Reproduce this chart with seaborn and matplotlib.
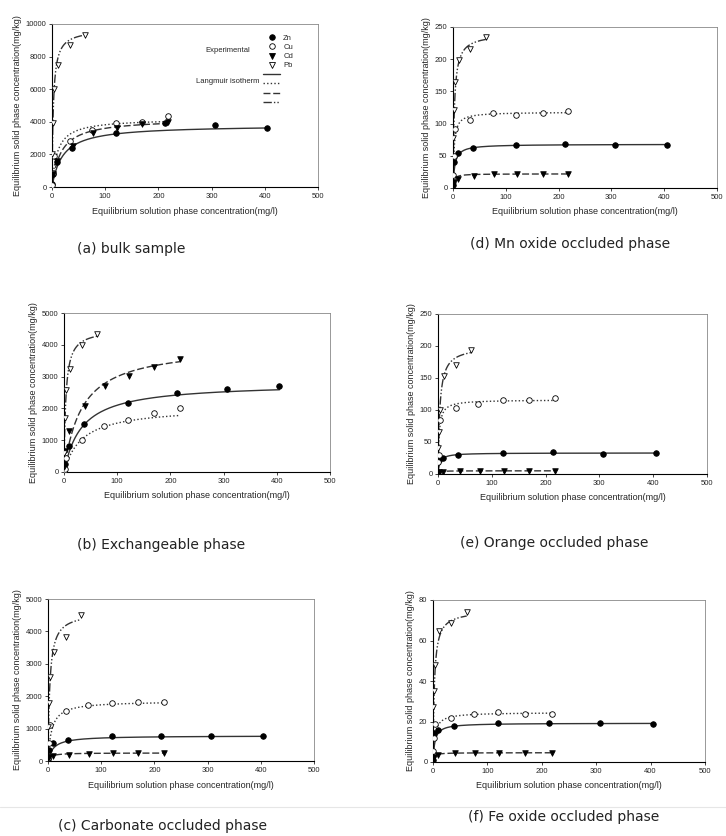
import numpy as np
import pandas as pd
import seaborn as sns
import matplotlib.pyplot as plt
from matplotlib.lines import Line2D

# equilibrium solution concentration (mg/l), same sampling for every fraction
zn_x = [0.3, 1, 10, 38, 120, 213, 307, 405]
cu_x = [0.5, 2, 4, 33, 75, 120, 170, 218]
cd_x = [0.5, 1.5, 10, 40, 78, 122, 170, 218]
pb_x = [0.3, 1, 3, 11, 33, 62]

# solid phase concentration (mg/kg) per fraction
a_zn = [200, 800, 1550, 2400, 3300, 3900, 3800, 3650]
a_cu = [150, 850, 1900, 2800, 3500, 3900, 4000, 4350]
a_cd = [700, 800, 1600, 2500, 3300, 3650, 3850, 4000]
a_pb = [2000, 3950, 6000, 7500, 8700, 9300]

b_zn = [50, 250, 820, 1500, 2180, 2470, 2600, 2700]
b_cu = [30, 100, 450, 1000, 1450, 1650, 1850, 2000]
b_cd = [150, 650, 1300, 2070, 2700, 3020, 3300, 3550]
b_pb = [600, 1700, 2580, 3250, 4000, 4330]

c_zn = [50, 350, 550, 650, 760, 780, 780, 760]
c_cu = [100, 550, 1100, 1540, 1720, 1800, 1810, 1830]
c_cd = [100, 120, 150, 200, 230, 240, 240, 240]
c_pb = [1050, 1780, 2580, 3370, 3820, 4500]

d_zn = [5, 40, 55, 62, 66, 68, 67, 66]
d_cu = [20, 50, 92, 106, 116, 113, 116, 119]
d_cd = [5, 10, 14, 19, 21, 21, 22, 22]
d_pb = [78, 121, 165, 198, 216, 235]

e_zn = [3, 22, 25, 29, 33, 34, 32, 33]
e_cu = [18, 30, 84, 103, 110, 116, 116, 118]
e_cd = [2, 3, 3, 5, 5, 5, 5, 5]
e_pb = [40, 65, 100, 153, 170, 193]

f_zn = [1, 14.5, 16, 18, 19.2, 19.5, 19.2, 19]
f_cu = [5.5, 12, 19, 21.5, 23.8, 24.5, 23.8, 23.8]
f_cd = [1.5, 2.5, 3.5, 4.2, 4.2, 4.6, 4.5, 4.5]
f_pb = [27, 35, 48, 64.5, 68.5, 74]

# Langmuir fit parameters: (Qmax, K) for Zn, Cu, Cd, Pb
a_fit = [(3800, 0.05), (4200, 0.1), (4200, 0.06), (9700, 0.4)]
b_fit = [(2800, 0.03), (2050, 0.03), (4000, 0.03), (4500, 0.3)]
c_fit = [(780, 0.1), (1850, 0.15), (250, 0.2), (4600, 0.3)]
d_fit = [(68, 0.3), (118, 0.5), (22, 0.5), (240, 0.4)]
e_fit = [(33, 0.3), (116, 0.5), (5, 0.5), (200, 0.3)]
f_fit = [(19.2, 0.3), (24.5, 0.3), (4.6, 0.5), (75, 0.4)]

metals = ['Zn', 'Cu', 'Cd', 'Pb']
captions = ['(a) bulk sample', '(b) Exchangeable phase', '(c) Carbonate occluded phase',
            '(d) Mn oxide occluded phase', '(e) Orange occluded phase', '(f) Fe oxide occluded phase']
y_tops = [10000, 5000, 5000, 250, 250, 80]
y_steps = [2000, 1000, 1000, 50, 50, 20]

sns.set_style('ticks')
plt.rcParams['font.family'] = ['Liberation Sans', 'DejaVu Sans']

fig = plt.figure(figsize=(7.26, 8.36), dpi=100)

# axes boxes in pixels: left, top, right, bottom
boxes = [(52, 24, 318, 187), (64, 313, 330, 472), (48, 599, 314, 761),
         (453, 27, 717, 188), (438, 314, 707, 474), (433, 600, 705, 762)]
cap_pos = [(77, 249), (77, 545), (58, 826), (470, 244), (460, 543), (468, 817)]

xs = [zn_x, cu_x, cd_x, pb_x]
panels = [(a_zn, a_cu, a_cd, a_pb), (b_zn, b_cu, b_cd, b_pb), (c_zn, c_cu, c_cd, c_pb),
          (d_zn, d_cu, d_cd, d_pb), (e_zn, e_cu, e_cd, e_pb), (f_zn, f_cu, f_cd, f_pb)]
fits = [a_fit, b_fit, c_fit, d_fit, e_fit, f_fit]

mk = {'Zn': 'o', 'Cu': 'o', 'Cd': 'v', 'Pb': 'v'}
face = {'Zn': 'black', 'Cu': 'white', 'Cd': 'black', 'Pb': 'white'}
dash = {'Zn': None, 'Cu': (1, 1.6), 'Cd': (5, 2), 'Pb': (6, 1.5, 1, 1.5, 1, 1.5)}
lc = '#333333'

W, H = 726, 836
for i in range(6):
    l, t, r, b = boxes[i]
    ax = fig.add_axes([l / W, 1 - b / H, (r - l) / W, (b - t) / H])
    for j, m in enumerate(metals):
        x = xs[j]
        y = panels[i][j]
        q, k = fits[i][j]
        cx = np.concatenate([np.linspace(0, 5, 60), np.linspace(5, max(x), 200)])
        curve = pd.DataFrame({'c': cx, 'q': q * k * cx / (1 + k * cx)})
        sns.lineplot(data=curve, x='c', y='q', ax=ax, color=lc, lw=1.0)
        if dash[m] is not None:
            ax.lines[-1].set_dashes(dash[m])
        pts = pd.DataFrame({'c': x, 'q': y})
        sns.scatterplot(data=pts, x='c', y='q', ax=ax, marker=mk[m], s=16,
                        facecolor=face[m], edgecolor='black', linewidth=0.6, zorder=3)
    ax.set_xlim(0, 500)
    ax.set_ylim(0, y_tops[i])
    ax.set_xticks(range(0, 501, 100))
    ax.set_yticks(np.arange(0, y_tops[i] + 1, y_steps[i]))
    ax.tick_params(labelsize=5.5, length=2, width=0.6, pad=2)
    ax.set_xlabel('Equilibrium solution phase concentration(mg/l)', fontsize=6.5, labelpad=5)
    ax.set_ylabel('Equilibrium solid phase concentration(mg/kg)', fontsize=6.5, labelpad=3)
    for s in ['left', 'bottom']:
        ax.spines[s].set_linewidth(0.8)
        ax.spines[s].set_color('black')
    for s in ['top', 'right']:
        ax.spines[s].set_visible(True)
        ax.spines[s].set_linewidth(0.6)
        ax.spines[s].set_color('#888888')

    cx_, cy_ = cap_pos[i]
    fig.text(cx_ / W, 1 - cy_ / H, captions[i], fontsize=10, ha='left', va='center',
             color='#222222', family=['DejaVu Sans'])

    if i == 0:
        handles = [Line2D([], [], ls='none', marker=mk[m], markerfacecolor=face[m],
                          markeredgecolor='black', markersize=4, markeredgewidth=0.6) for m in metals]
        for m in metals:
            h = Line2D([], [], color=lc, lw=1.0)
            if dash[m] is not None:
                h.set_dashes(dash[m])
            handles.append(h)
        ax.legend(handles, metals + [''] * 4, loc='upper left', bbox_to_anchor=(0.78, 0.96),
                  frameon=False, fontsize=5.5, labelspacing=0.25, handlelength=2.2,
                  handletextpad=0.4, borderpad=0)
        ax.text(0.575, 0.835, 'Experimental', transform=ax.transAxes, fontsize=5.5, va='center')
        ax.text(0.54, 0.645, 'Langmuir isotherm', transform=ax.transAxes, fontsize=5.5, va='center')

fig.add_artist(Line2D([0, 1], [1 - 807 / H, 1 - 807 / H], transform=fig.transFigure,
                      color='#e6e6e6', lw=0.8))

fig.savefig('out.png', dpi=100)
